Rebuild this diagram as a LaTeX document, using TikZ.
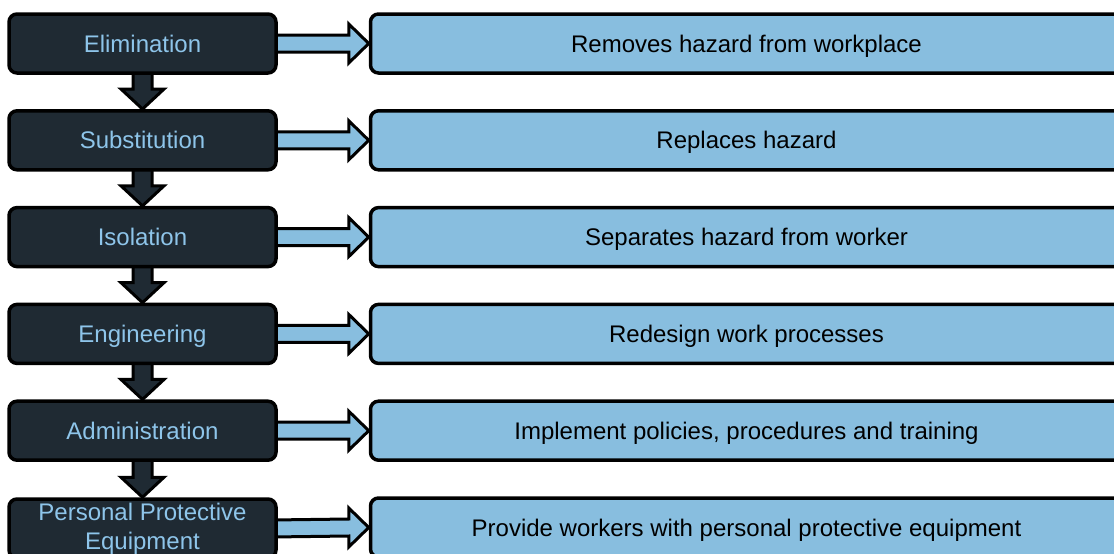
\documentclass[tikz,border=0pt]{standalone}
\usepackage{fontspec}
\setmainfont{Liberation Sans}
\usetikzlibrary{calc,backgrounds}
\definecolor{darkfill}{HTML}{1F2A33}
\definecolor{lightfill}{HTML}{88BEDF}
\definecolor{lighttext}{HTML}{8EC5EA}
\begin{document}
\begin{tikzpicture}[x=1pt,y=-1pt,
  boxbase/.style={draw=black, line width=3.5pt, rounded corners=8pt,
    minimum height=59pt, inner sep=1pt, font=\fontsize{24}{29}\selectfont},
  ctrl/.style={boxbase, fill=darkfill, text=lighttext, minimum width=267pt,
    text height=17.2pt, text depth=0pt},
  ctrltwo/.style={boxbase, fill=darkfill, text=lighttext, minimum width=267pt, align=center},
  desc/.style={boxbase, fill=lightfill, text=black, minimum width=752pt,
    text height=17.2pt, text depth=0pt},
  downarrow/.style={draw=black, line width=3pt, fill=darkfill},
  rightarrow/.style={draw=black, line width=3pt, fill=lightfill}]
\clip (0,0) rectangle (1114,554);
% control levels
\node[ctrl] (c1) at (142.5,43.5) {Elimination};
\node[ctrl] (c2) at (142.5,140.3) {Substitution};
\node[ctrl] (c3) at (142.5,237.1) {Isolation};
\node[ctrl] (c4) at (142.5,333.9) {Engineering};
\node[ctrl] (c5) at (142.5,430.7) {Administration};
\node[ctrltwo] (c6) at (142.5,528.5) {Personal Protective\\Equipment};
% descriptions
\node[desc] (d1) at (746.5,43.5) {Removes hazard from workplace};
\node[desc] (d2) at (746.5,140.3) {Replaces hazard};
\node[desc] (d3) at (746.5,237.1) {Separates hazard from worker};
\node[desc] (d4) at (746.5,333.9) {Redesign work processes};
\node[desc] (d5) at (746.5,430.7) {Implement policies, procedures and training};
\node[desc] (d6) at (746.5,527.5) {Provide workers with personal protective equipment};
\begin{scope}[on background layer]
  \foreach \a/\b in {c1/c2,c2/c3,c3/c4,c4/c5,c5/c6}{
    \draw[downarrow] ($(\a.south)+(-9.5,-6)$) -- ($(\b.north)+(-9.5,-20)$)
      -- ($(\b.north)+(-21.5,-20)$) -- (\b.north) -- ($(\b.north)+(21.5,-20)$)
      -- ($(\b.north)+(9.5,-20)$) -- ($(\a.south)+(9.5,-6)$) -- cycle;
  }
  \foreach \a/\b in {c1/d1,c2/d2,c3/d3,c4/d4,c5/d5,c6/d6}{
    \draw[rightarrow] ($(\a.east)+(-6,-8.5)$) -- ($(\b.west)+(-20,-8.5)$)
      -- ($(\b.west)+(-20,-19.5)$) -- (\b.west) -- ($(\b.west)+(-20,19.5)$)
      -- ($(\b.west)+(-20,8.5)$) -- ($(\a.east)+(-6,8.5)$) -- cycle;
  }
\end{scope}
\end{tikzpicture}
\end{document}
